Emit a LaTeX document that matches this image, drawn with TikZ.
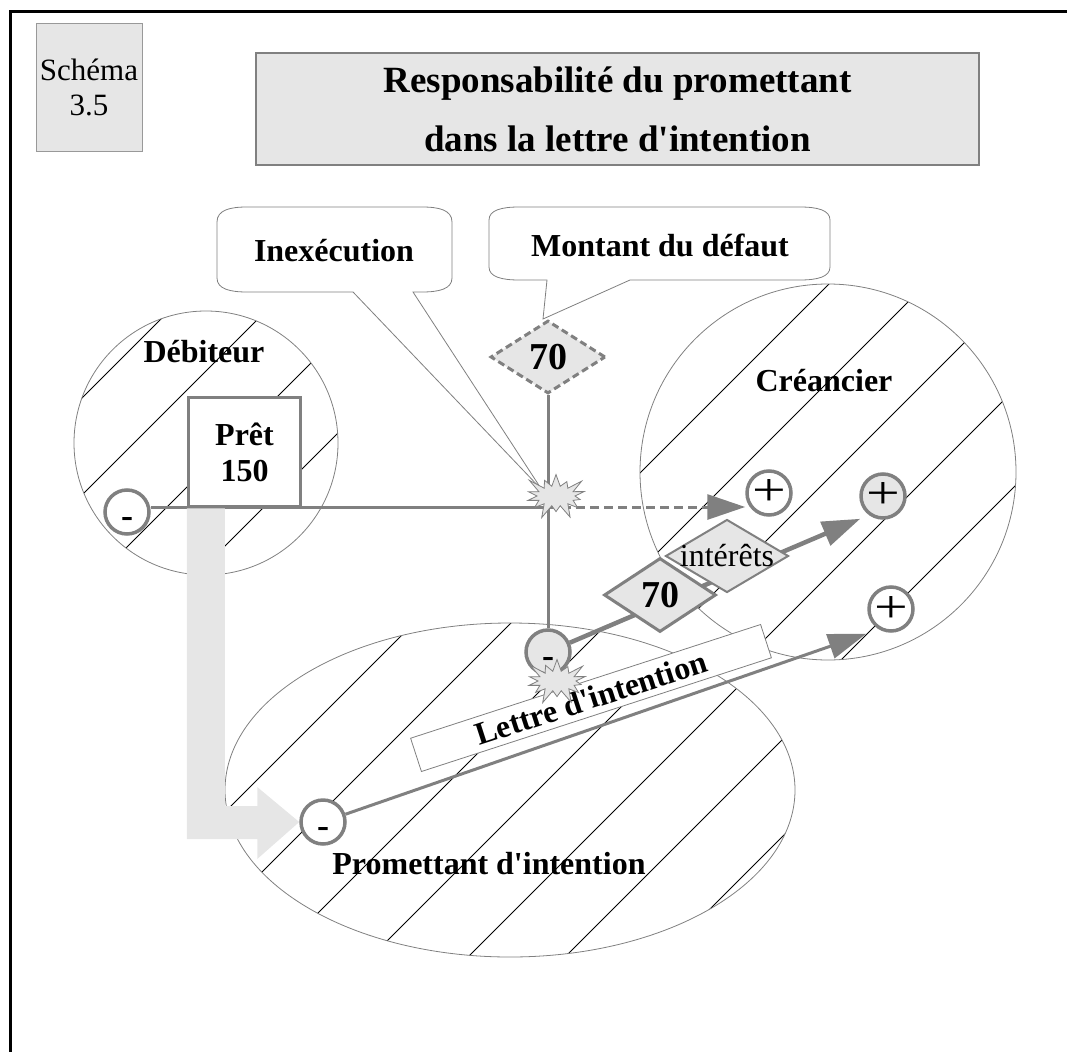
\documentclass[tikz,border=0pt]{standalone}
\usepackage{fontspec}
\setmainfont{Liberation Serif}[Ligatures=TeXOff]
\usetikzlibrary{shapes.geometric,shapes.symbols,arrows.meta,calc}
\definecolor{linegray}{RGB}{128,128,128}
\definecolor{lightfill}{RGB}{230,230,230}
\pgfdeclarelayer{back}
\pgfdeclarelayer{mid}
\pgfsetlayers{back,mid,main}
\begin{document}
\begin{tikzpicture}[x=1pt,y=-1pt,
  lbl/.style={font=\fontsize{32}{36}\selectfont\bfseries},
  hatch/.style={black,line width=0.8pt},
  region/.style={draw=linegray,line width=0.8pt},
  callout/.style={draw=linegray,line width=0.8pt,fill=white},
  link/.style={draw=linegray,line width=3pt},
  dashlink/.style={link,dash pattern=on 9pt off 5pt},
  bighead/.style={-{Triangle[length=38pt,width=25pt]}},
  sign/.style={circle,draw=linegray,line width=3.5pt,minimum size=44pt,inner sep=0pt,fill=white},
  minus/.style={sign,font=\fontsize{36}{36}\selectfont\bfseries,text height=31pt,text depth=0pt},
  plus/.style={sign,font=\fontsize{46}{46}\selectfont},
  burst/.style={starburst,starburst points=14,starburst point height=16pt,draw=linegray,line width=0.8pt,fill=lightfill,minimum width=70pt,minimum height=52pt,inner sep=0pt},
  rhomb/.style={diamond,aspect=1.5,inner sep=0pt,fill=lightfill,draw=linegray},
]
\useasboundingbox (0,0) rectangle (1067,1051);

% page frame (top and left rules)
\draw[line width=3pt] (10,1060) -- (10,12) -- (1075,12);

% ---- hatched regions ----
\begin{pgfonlayer}{back}
\begin{scope}
  \clip (206,443) circle[radius=132];
  \foreach \c in {480,577,674,771} \draw[hatch] ({\c-250},250) -- ({\c-650},650);
\end{scope}
\begin{scope}
  \clip (828,472) circle[radius=188];
  \foreach \c in {1016,1113,1210,1307,1404,1501,1598} \draw[hatch] ({\c-250},250) -- ({\c-700},700);
\end{scope}
\begin{scope}
  \clip (510,790) ellipse[x radius=285,y radius=167];
  \foreach \c in {940,1037,1134,1231,1328,1425,1522,1619} \draw[hatch] ({\c-600},600) -- ({\c-1000},1000);
\end{scope}
\draw[region] (206,443) circle[radius=132];
\draw[region] (828,472) circle[radius=188];
\draw[region] (510,790) ellipse[x radius=285,y radius=167];
\end{pgfonlayer}

% ---- header ----
\node[draw=linegray!80,line width=0.8pt,fill=lightfill,minimum width=106pt,minimum height=128pt,
      align=center,font=\fontsize{31}{35}\selectfont] (schema) at (89,87) {Schéma\\3.5};
\node[draw=linegray,line width=2.5pt,fill=lightfill,minimum width=723pt,minimum height=112pt,
      align=center,font=\fontsize{37}{59}\selectfont\bfseries] (title) at (617.5,109)
  {Responsabilité du promettant\\dans la lettre d'intention};

% ---- key nodes ----
\coordinate (X) at (548,507);
\node[rhomb,line width=3pt,dash pattern=on 7pt off 4pt,minimum width=115pt,minimum height=73pt,
      font=\fontsize{38}{38}\selectfont\bfseries] (d1) at (548,357) {70};
\coordinate (tipI) at (542,490);

% ---- callouts ----
\begin{pgfonlayer}{back}
\draw[callout] (217,222) .. controls (217,210) and (230,207) .. (247,207) -- (422,207)
  .. controls (439,207) and (452,210) .. (452,222) -- (452,278)
  .. controls (452,289) and (439,292) .. (422,292) -- (413,292) -- (tipI) -- (353,292) -- (247,292)
  .. controls (230,292) and (217,289) .. (217,278) -- cycle;
\draw[callout] (489,220) .. controls (489,210) and (502,207) .. (519,207) -- (800,207)
  .. controls (817,207) and (830,210) .. (830,220) -- (830,267)
  .. controls (830,277) and (817,280) .. (800,280) -- (630,280) -- ([xshift=-5pt]d1.north) -- (547,280) -- (519,280)
  .. controls (502,280) and (489,277) .. (489,267) -- cycle;
\end{pgfonlayer}
\node[lbl] (inex) at (334,251) {Inexécution};
\node[lbl] (montant) at (660,245) {Montant du défaut};

% ---- parties ----
\node[lbl] (deb) at (204,352) {Débiteur};
\node[lbl] (cre) at (824,381) {Créancier};
\node[lbl] (prom) at (489,864) {Promettant d'intention};

% loan box
\node[draw=linegray,line width=3.5pt,fill=white,minimum width=112pt,minimum height=109pt,
      align=center,lbl] (pret) at (244.5,452) {Prêt\\150};

\node[minus] (dm) at (127,512) {-};
\node[minus] (pm1) at (323,822) {-};
\node[minus,fill=lightfill] (pm2) at (548,652) {-};
\node[plus] (pc1) at (769,493) {\scalebox{1.3}[1]{+}};
\node[plus,fill=lightfill] (pc2) at (883,496) {\scalebox{1.3}[1]{+}};
\node[plus] (pc3) at (891,609) {\scalebox{1.3}[1]{+}};

% ---- connectors ----
\begin{pgfonlayer}{mid}
\draw[link] (dm.east |- X) -- (X);
\draw[link] (d1.south) -- (pm2.north);
\draw[dashlink,bighead] (X) -- (pc1.west |- X);
\draw[link,line width=4.5pt,bighead] (pm2) -- ([shift={(-6pt,-6pt)}]pc2.225);
\draw[link,bighead] (pm1) -- ([shift={(-8pt,-8pt)}]pc3.225);
\end{pgfonlayer}

% transfer arrow from the loan to the promisor
\path (pret.south west) ++(38,0) coordinate (stemR);
\path (pm1.west) coordinate (tipL)
      ++(-42,-16) coordinate (armTop)
      (tipL) ++(-42,-35) coordinate (headTop)
      (tipL) ++(-42,37) coordinate (headBot)
      (tipL) ++(-42,17) coordinate (armBot);
\fill[lightfill] (pret.south west) -- (stemR) -- (stemR |- armTop) -- (armTop) -- (headTop) -- (tipL)
  -- (headBot) -- (armBot) -- (pret.south west |- armBot) -- cycle;

% amounts
\node[rhomb,line width=3pt,minimum width=112pt,minimum height=74pt,
      font=\fontsize{38}{38}\selectfont\bfseries] (d2) at (660,595) {70};
\node[rhomb,line width=2pt,minimum width=123pt,minimum height=73pt,
      font=\fontsize{32}{32}\selectfont] (d3) at (727,556) {\makebox[0pt]{intérêts}};

% letter of intent
\node[draw=linegray,line width=0.8pt,fill=white,rotate=18,minimum width=368pt,minimum height=35pt,
      inner sep=0pt,lbl] (lettre) at (591,698) {Lettre d'intention};

% breach bursts
\node[burst] (b1) at (556,496) {};
\node[burst] (b2) at (557,681) {};
\end{tikzpicture}
\end{document}
